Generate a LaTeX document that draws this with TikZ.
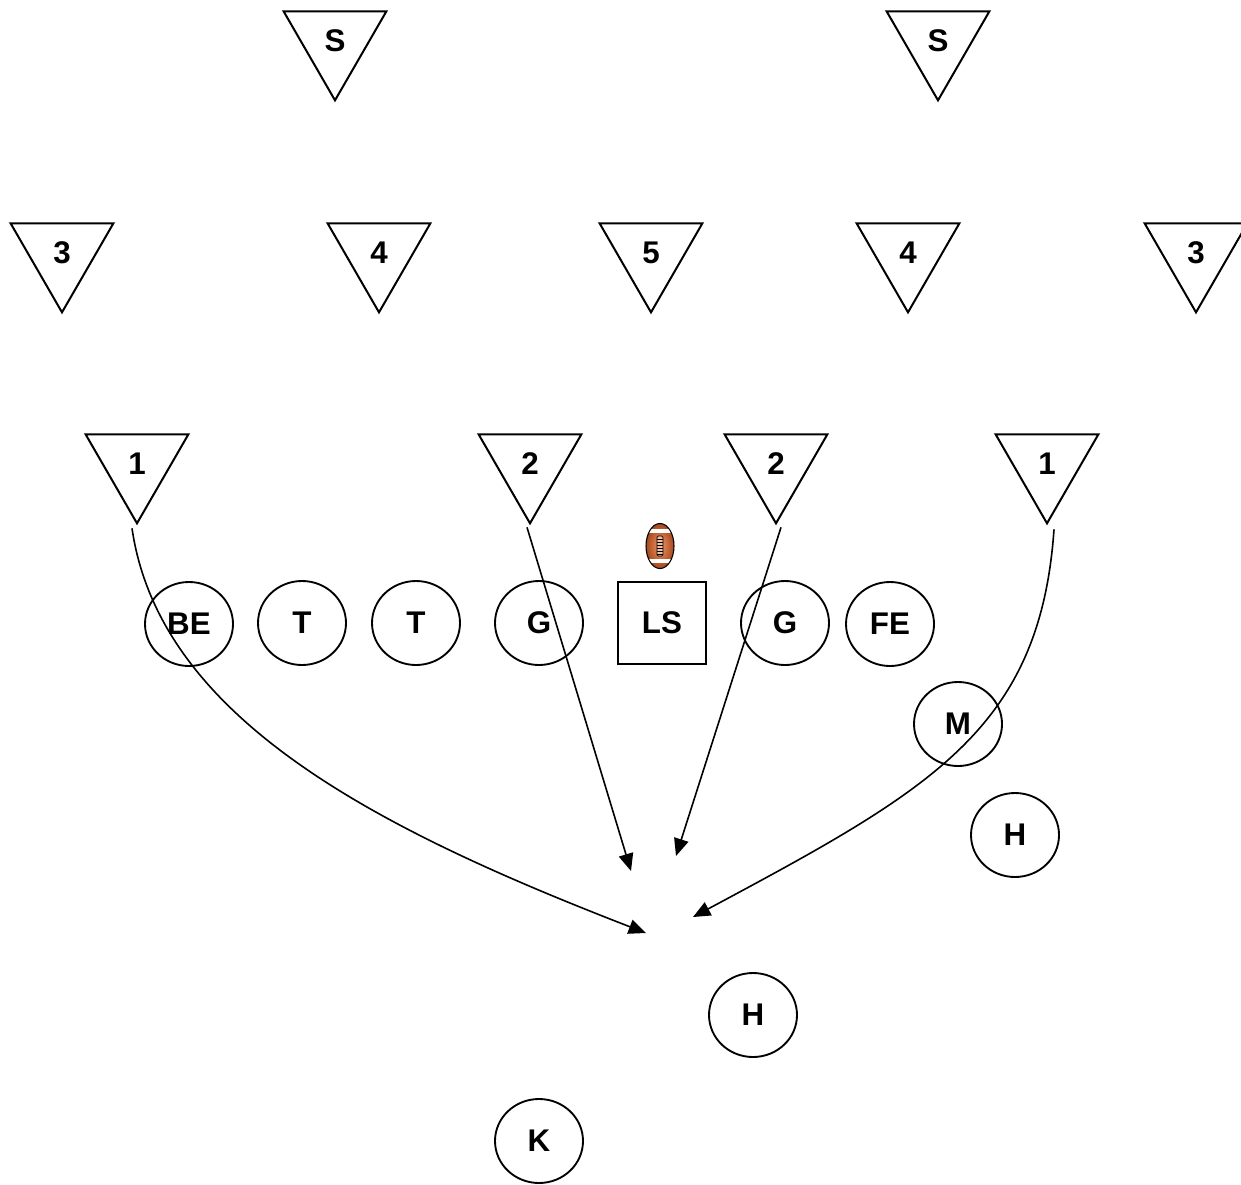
\documentclass[tikz,border=0pt]{standalone}
\usepackage{fontspec}
\setmainfont{Liberation Sans}
\usetikzlibrary{shapes.geometric,arrows.meta}
\definecolor{balldark}{RGB}{165,72,30}
\definecolor{balllight}{RGB}{240,150,100}
\begin{document}
\begin{tikzpicture}[x=0.75pt,y=-0.75pt,
  lbl/.style={font=\fontsize{23.5}{27}\selectfont\bfseries},
  player/.style={lbl,draw,ellipse,line width=1.4pt,minimum width=66pt,minimum height=63pt,inner sep=0pt},
  snapper/.style={lbl,draw,rectangle,line width=1.4pt,minimum width=66pt,minimum height=62pt,inner sep=0pt},
  defender/.style={lbl,draw,regular polygon,regular polygon sides=3,shape border rotate=180,minimum size=89pt,inner sep=0pt,line width=1.5pt},
  rush/.style={line width=1.2pt,-{Triangle[length=13pt,width=11pt]}}]
\useasboundingbox (0,0) rectangle (1241,1184);
% defenders
\node[defender] (sL) at (335,41) {S};
\node[defender] (sR) at (938,41) {S};
\node[defender] (d3L) at (62,253) {3};
\node[defender] (d4L) at (379,253) {4};
\node[defender] (d5) at (651,253) {5};
\node[defender] (d4R) at (908,253) {4};
\node[defender] (d3R) at (1196,253) {3};
\node[defender] (d1L) at (137,464) {1};
\node[defender] (d2L) at (530,464) {2};
\node[defender] (d2R) at (776,464) {2};
\node[defender] (d1R) at (1047,464) {1};
% offense
\node[player] (be) at (189,624) {BE};
\node[player] (t1) at (302,623) {T};
\node[player] (t2) at (416,623) {T};
\node[player] (g1) at (539,623) {G};
\node[snapper] (ls) at (662,623) {LS};
\node[player] (g2) at (785,623) {G};
\node[player] (fe) at (890,624) {FE};
\node[player] (m) at (958,724) {M};
\node[player] (h1) at (1015,835) {H};
\node[player] (h2) at (753,1015) {H};
\node[player] (k) at (539,1141) {K};
% football
\begin{scope}[shift={(660,546)}]
  \begin{scope}
    \clip (0,0) ellipse (10.5pt and 16.9pt);
    \shade[inner color=balllight, outer color=balldark] (0,0) ellipse (10.5pt and 16.9pt);
    \fill[white] (-20,-17) rectangle (20,-13);
    \fill[white] (-20,13) rectangle (20,17);
  \end{scope}
  \draw[line width=0.8pt] (0,0) ellipse (10.5pt and 16.9pt);
  \draw[line width=0.5pt, fill=balllight!60!white, rounded corners=1pt] (-3,-10) rectangle (3,10);
  \foreach \yy in {-7,-4,...,8} \draw[line width=0.4pt] (-3,\yy) -- (3,\yy);
\end{scope}
% targets
\coordinate (tA) at (646,933);
\coordinate (tB) at (631,871);
\coordinate (tC) at (676,856);
\coordinate (tD) at (693,917);
% rush paths
\draw[rush] ([shift={(-5,3)}]d1L.south) .. controls (160,720) and (380,830) .. (tA);
\draw[rush] ([shift={(-3,2)}]d2L.south) -- (tB);
\draw[rush] ([shift={(5,2)}]d2R.south) -- (tC);
\draw[rush] ([shift={(7,4)}]d1R.south) .. controls (1040,730) and (930,790) .. (tD);
\end{tikzpicture}
\end{document}
